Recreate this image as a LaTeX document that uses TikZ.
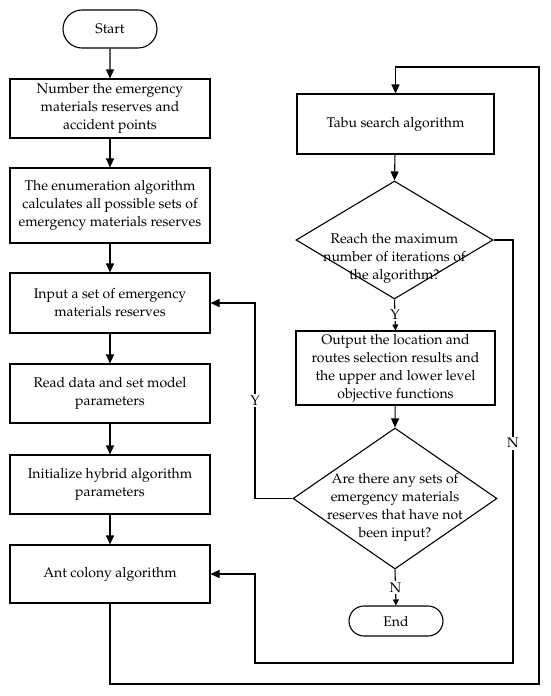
\documentclass[tikz,border=0pt]{standalone}
\usepackage[T1]{fontenc}
\usepackage{mathpazo}
\usetikzlibrary{arrows.meta,shapes.geometric,shapes.misc}
\begin{document}
\begin{tikzpicture}[x=1pt,y=-1pt,
  every node/.style={font=\fontsize{14}{18}\selectfont, align=center, inner sep=0pt},
  proc/.style={draw, line width=1.1pt, minimum width=200pt},
  term/.style={draw, line width=1.1pt, rounded rectangle, minimum width=94pt},
  dia/.style={draw, line width=1.1pt, diamond},
  conn/.style={line width=1.1pt},
  arr/.style={conn, -{Triangle[length=9pt,width=8pt]}},
  sarr/.style={conn, -{Triangle[length=6pt,width=6pt]}},
  lbl/.style={fill=white, inner sep=1.5pt}]
\useasboundingbox (0,0) rectangle (550,696);
% left column
\node[term, minimum height=38pt] (start) at (110,29) {Start};
\node[proc, minimum height=59pt] (b1) at (110,108.5) {Number the emergency\\materials reserves and\\accident points};
\node[proc, minimum height=75pt] (b2) at (110,205.5) {The enumeration algorithm\\calculates all possible sets of\\emergency materials reserves};
\node[proc, minimum height=60pt] (b3) at (110,303) {Input a set of emergency\\materials reserves};
\node[proc, minimum height=59pt] (b4) at (110,393.5) {Read data and set model\\parameters};
\node[proc, minimum height=59pt] (b5) at (110,484.5) {Initialize hybrid algorithm\\parameters};
\node[proc, minimum height=58pt] (b6) at (110,574) {Ant colony algorithm};
% right column
\node[proc, minimum width=197pt, minimum height=60pt] (tabu) at (395.5,124) {Tabu search algorithm};
\node[dia, minimum width=197pt, minimum height=118pt] (d1) at (394.5,240) {};
\node (d1t) at (394.5,258) {Reach the maximum\\number of iterations of\\the algorithm?};
\node[proc, minimum width=199pt, minimum height=74pt] (out) at (395.5,368) {Output the location and\\routes selection results and\\the upper and lower level\\objective functions};
\node[dia, minimum width=204pt, minimum height=141pt] (d2) at (395,498.5) {};
\node (d2t) at (395,507) {Are there any sets of\\emergency materials\\reserves that have not\\been input?};
\node[term, minimum height=30pt] (end) at (396,621) {End};
% helper coordinates
\coordinate (lbot) at (110,684);
\coordinate (rbot) at (539,684);
\coordinate (rtop) at (539,67);
\coordinate (ttop) at (395.5,67);
\coordinate (ir) at (513,240);
\coordinate (ibot) at (513,663);
\coordinate (ilb) at (255,663);
\coordinate (ia) at (255,574);
\coordinate (yl) at (255,498.5);
\coordinate (yt) at (255,303);
% connectors
\draw[arr] (start) -- (b1);
\draw[arr] (b1) -- (b2);
\draw[arr] (b2) -- (b3);
\draw[arr] (b3) -- (b4);
\draw[arr] (b4) -- (b5);
\draw[arr] (b5) -- (b6);
\draw[arr] (b6.south) -- (lbot) -- (rbot) -- (rtop) -- (ttop) -- (tabu.north);
\draw[arr] (tabu) -- (d1.north);
\draw[sarr] (d1.south) -- node[lbl] (y1) {Y} (out.north);
\draw[arr] (out) -- (d2.north);
\draw[sarr] (d2.south) -- node[lbl] (n2) {N} (end.north);
\draw[arr] (d2.west) -- (yl) -- node[lbl, pos=0.5] (y2) {Y} (yt) -- (b3.east);
\draw[arr] (d1.east) -- (ir) -- node[lbl, pos=0.48] (n1) {N} (ibot) -- (ilb) -- (ia) -- (b6.east);
\end{tikzpicture}
\end{document}
